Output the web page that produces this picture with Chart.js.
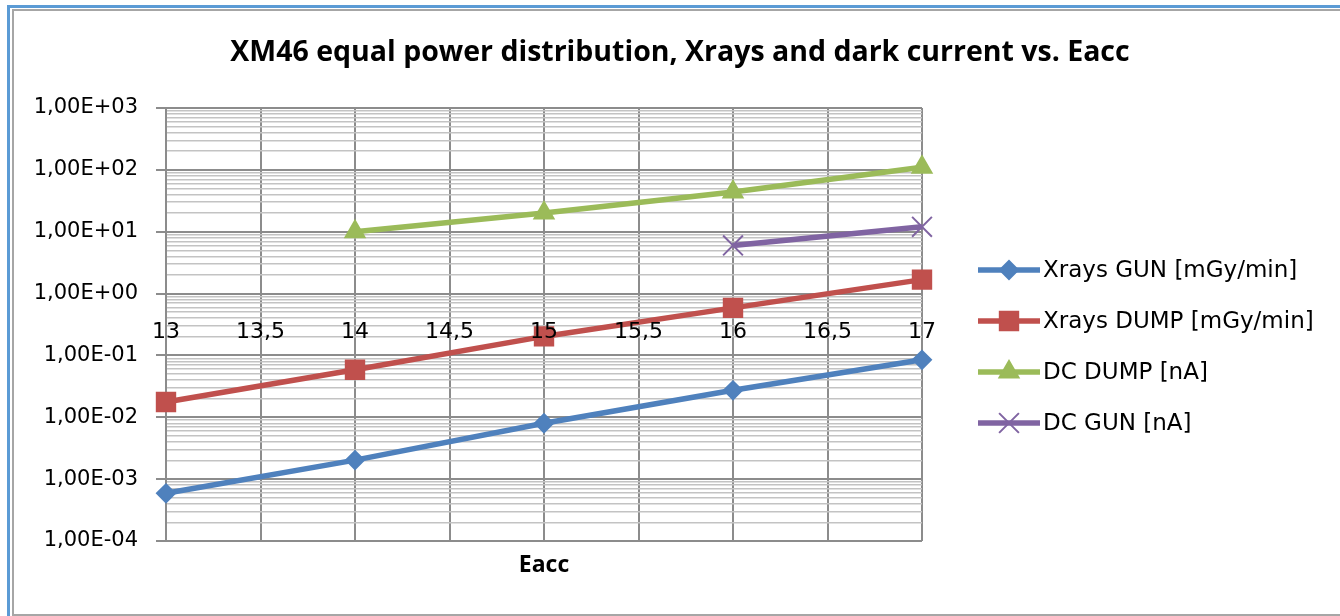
<!DOCTYPE html>
<html>
<head>
<meta charset="utf-8">
<title>XM46 equal power distribution</title>
<script src="https://cdn.jsdelivr.net/npm/chart.js@4.4.1/dist/chart.umd.min.js"></script>
<style>
  html, body { margin: 0; padding: 0; background: #ffffff; overflow: hidden; }
  #wrap { width: 1340px; height: 616px; }
  canvas { display: block; }
</style>
</head>
<body>
<div id="wrap"><canvas id="chart" width="1340" height="616"></canvas></div>
<script>
// Accelerating gradient (MV/m) and measured quantities
const eacc = [13, 14, 15, 16, 17];
const xraysGun = [0.00059, 0.00203, 0.0080, 0.0273, 0.085];
const xraysDump = [0.0177, 0.0587, 0.203, 0.587, 1.68];
const dcDump = [null, 10, 20, 44, 110];
const dcGun = [null, null, null, 6.0, 12.0];

const seriesNames = ['Xrays GUN [mGy/min]', 'Xrays DUMP [mGy/min]', 'DC DUMP [nA]', 'DC GUN [nA]'];
const chartTitle = 'XM46 equal power distribution, Xrays and dark current vs. Eacc';
const xAxisTitle = 'Eacc';

// Axis tick labels
const xTickLabels = ['13', '13,5', '14', '14,5', '15', '15,5', '16', '16,5', '17'];
const yTickLabels = ['1,00E-04', '1,00E-03', '1,00E-02', '1,00E-01', '1,00E+00', '1,00E+01', '1,00E+02', '1,00E+03'];
const yDecades = [-4, -3, -2, -1, 0, 1, 2, 3];

const COLORS = ['#4f81bd', '#c0504d', '#9bbb59', '#8064a2'];
const MARKERS = [
  { pointStyle: 'rectRot', radius: 9, borderWidth: 2 },
  { pointStyle: 'rect', radius: 13, borderWidth: 2 },
  { pointStyle: 'triangle', radius: 11, borderWidth: 2 },
  { pointStyle: 'crossRot', radius: 14, borderWidth: 2 }
];

const MAJOR_GRID = '#8c8c8c';
const MINOR_GRID = '#c3c3c3';

// Log-axis ticks: every mantissa 1..9 in each decade, labelled only on decades
const yTickValues = [];
yDecades.forEach((e, i) => {
  if (i === yDecades.length - 1) { yTickValues.push(Math.pow(10, e)); return; }
  for (let m = 1; m <= 9; m++) yTickValues.push(m * Math.pow(10, e));
});
function decadeIndex(v) {
  const e = Math.round(Math.log10(v));
  return Math.abs(v / Math.pow(10, e) - 1) < 1e-6 ? yDecades.indexOf(e) : -1;
}

function points(values) {
  return eacc.map((x, i) => ({ x: x, y: values[i] }));
}

const allSeries = [xraysGun, xraysDump, dcDump, dcGun];
const datasets = allSeries.map((vals, i) => ({
  label: seriesNames[i],
  data: points(vals),
  borderColor: COLORS[i],
  backgroundColor: COLORS[i],
  borderWidth: 5.5,
  pointStyle: MARKERS[i].pointStyle,
  pointRadius: MARKERS[i].radius,
  pointBorderWidth: MARKERS[i].borderWidth,
  pointBackgroundColor: COLORS[i],
  pointBorderColor: COLORS[i],
  tension: 0,
  clip: false,
  xAxisID: 'x',
  yAxisID: 'y'
}));

// Frame around the chart object
const framePlugin = {
  id: 'frame',
  beforeDraw(chart) {
    const ctx = chart.ctx;
    const W = chart.width, H = chart.height;
    ctx.save();
    ctx.fillStyle = '#ffffff';
    ctx.fillRect(0, 0, W, H);
    ctx.fillStyle = '#5b9bd5';
    ctx.fillRect(7, 5, 3, H - 5);
    ctx.fillRect(7, 5, W - 7, 3);
    ctx.fillStyle = '#a6a6a6';
    ctx.fillRect(12, 9, 2, H - 9);
    ctx.fillRect(12, 9, W - 12, 2);
    ctx.fillRect(12, H - 2, W - 12, 2);
    ctx.restore();
  }
};

// Chart title and axis title
const titlesPlugin = {
  id: 'titles',
  afterDraw(chart) {
    const ctx = chart.ctx;
    const a = chart.chartArea;
    ctx.save();
    ctx.fillStyle = '#000000';
    ctx.textAlign = 'center';
    ctx.textBaseline = 'middle';
    ctx.font = 'bold 28.5px "Open Sans"';
    ctx.fillText(chartTitle, 680, 53);
    ctx.font = 'bold 23px "Open Sans"';
    ctx.fillText(xAxisTitle, (a.left + a.right) / 2, a.bottom + 24);
    ctx.restore();
  }
};

function drawMarker(ctx, style, x, y, color) {
  ctx.fillStyle = color;
  ctx.strokeStyle = color;
  ctx.lineWidth = style.borderWidth;
  if (Chart.helpers && Chart.helpers.drawPoint) {
    Chart.helpers.drawPoint(ctx, { pointStyle: style.pointStyle, radius: style.radius, borderWidth: style.borderWidth, rotation: 0 }, x, y);
  }
}

// Legend on the right: line sample with marker, then the series name
const sideLegendPlugin = {
  id: 'sideLegend',
  afterDraw(chart) {
    const ctx = chart.ctx;
    const x0 = 978, x1 = 1040, top = 270, step = 51;
    ctx.save();
    chart.data.datasets.forEach((ds, i) => {
      const y = top + i * step;
      ctx.strokeStyle = ds.borderColor;
      ctx.lineWidth = 5.5;
      ctx.lineCap = 'butt';
      ctx.beginPath();
      ctx.moveTo(x0, y);
      ctx.lineTo(x1, y);
      ctx.stroke();
      drawMarker(ctx, MARKERS[i], (x0 + x1) / 2, y, ds.borderColor);
      ctx.font = '23px "DejaVu Sans"';
      ctx.fillStyle = '#000000';
      ctx.textAlign = 'left';
      ctx.textBaseline = 'middle';
      ctx.fillText(ds.label, x1 + 3, y + 1);
    });
    ctx.restore();
  }
};

new Chart(document.getElementById('chart'), {
  type: 'line',
  data: { datasets: datasets },
  plugins: [framePlugin, titlesPlugin, sideLegendPlugin],
  options: {
    responsive: false,
    animation: false,
    devicePixelRatio: 1,
    layout: { padding: { left: 0, right: 418, top: 108, bottom: 75 } },
    plugins: {
      legend: { display: false },
      tooltip: { enabled: false },
      title: { display: false }
    },
    scales: {
      x: {
        type: 'linear',
        position: { y: 1 },
        min: 13,
        max: 17,
        ticks: {
          stepSize: 0.5,
          autoSkip: false,
          maxRotation: 0,
          padding: 26,
          z: 1,
          color: '#000000',
          font: { family: 'DejaVu Sans', size: 22 },
          callback: (v) => {
            const i = Math.round((v - eacc[0]) * 2);
            return xTickLabels[i] !== undefined ? xTickLabels[i] : '';
          }
        },
        grid: { color: MAJOR_GRID, lineWidth: 2, drawTicks: false },
        border: { display: false }
      },
      y: {
        type: 'logarithmic',
        min: Math.pow(10, yDecades[0]),
        max: Math.pow(10, yDecades[yDecades.length - 1]),
        afterBuildTicks: (scale) => {
          scale.ticks = yTickValues.map(v => ({ value: v, major: decadeIndex(v) >= 0 }));
        },
        afterFit: (scale) => { scale.width = 166; },
        ticks: {
          autoSkip: false,
          padding: 18,
          color: '#000000',
          font: { family: 'DejaVu Sans', size: 21 },
          callback: (v) => {
            const i = decadeIndex(v);
            return i >= 0 ? yTickLabels[i] : '';
          }
        },
        grid: {
          color: (c) => (c.tick && decadeIndex(c.tick.value) >= 0 ? MAJOR_GRID : MINOR_GRID),
          lineWidth: (c) => (c.tick && decadeIndex(c.tick.value) >= 0 ? 2 : 1.5),
          tickLength: 10,
          tickColor: (c) => (c.tick && decadeIndex(c.tick.value) >= 0 ? MAJOR_GRID : 'rgba(0,0,0,0)')
        },
        border: { color: MAJOR_GRID, width: 2 }
      }
    }
  }
});
</script>
</body>
</html>
